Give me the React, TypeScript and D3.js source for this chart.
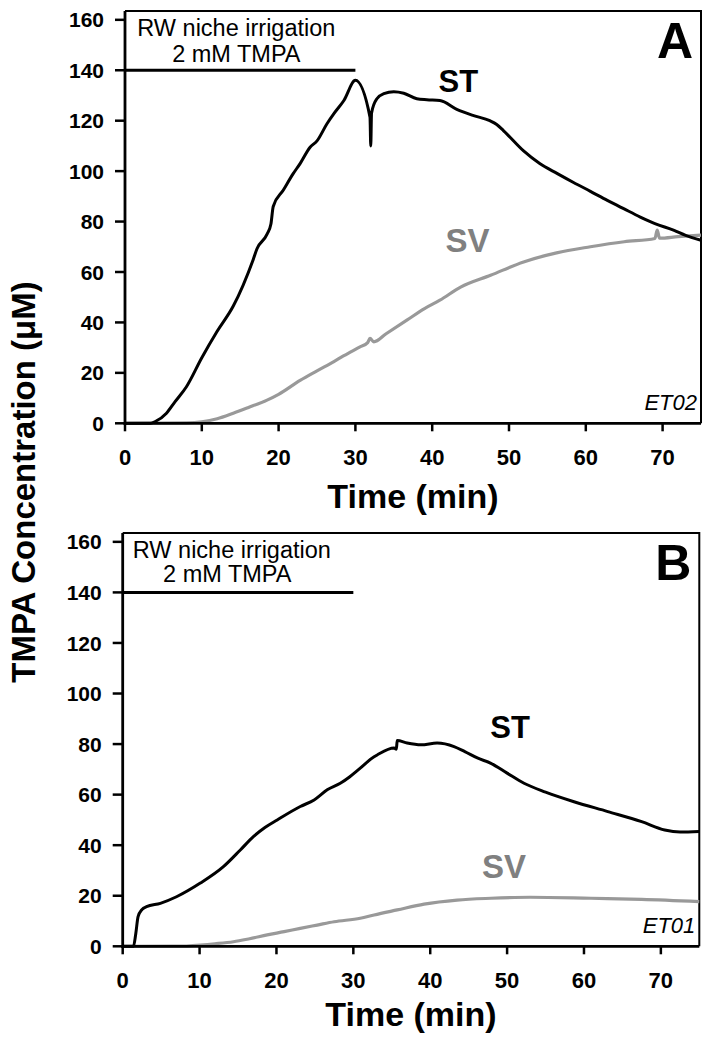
import React from "react";
import * as d3 from "d3";

// ---------- data ----------
const xTicks = [0, 10, 20, 30, 40, 50, 60, 70];
const yTicks = [0, 20, 40, 60, 80, 100, 120, 140, 160];
const yTitle = "TMPA Concentration (\u03BCM)";
const xTitle = "Time (min)";
const annotLine1 = "RW niche irrigation";
const annotLine2 = "2 mM TMPA";
const irrigation = [[0, 140], [30, 140]];

// Panel A (ET02)
const stA: [number, number][] = [
  [0, 0], [3.3, 0], [4, 0.8], [5.4, 4], [6.5, 8.5], [8, 14.5], [10, 26], [12, 36.5], [14.1, 46.5],
  [16.7, 65], [17.2, 69.3], [18.5, 75], [19.0, 79], [19.3, 86], [20.6, 92.4], [21.9, 99], [22.8, 103],
  [24.1, 109.5], [25, 112], [26.3, 118.8], [27.2, 122.8], [28.5, 128], [30, 136], [31.9, 121.4],
  [32.0, 110], [32.1, 123], [32.8, 128.7], [33.7, 130.7], [35, 131.5], [36.3, 130.9], [38, 128.7],
  [39.3, 128.3], [41, 128], [43.2, 124.5], [45.4, 122], [47.5, 120], [48.4, 118.5], [49.3, 116],
  [51.9, 108], [54, 103], [56.3, 99], [58.4, 95.5], [60.6, 92], [62.8, 88.4], [65, 85], [67.1, 81.8],
  [69, 79.2], [71.5, 76.5], [73, 74.5], [75, 72.6],
];
const svA: [number, number][] = [
  [0, 0], [8, 0.2], [10, 0.6], [12, 1.8], [14.1, 4], [16, 6.2], [18.5, 9.2], [20, 11.5], [22.8, 17],
  [25, 20.8], [27.2, 24.5], [28.5, 26.8], [30.6, 30.3], [31.6, 32], [31.9, 33.7], [32.4, 32.3],
  [34, 35.5], [36.7, 40.9], [39, 45.5], [41, 48.8], [43.7, 54], [47.6, 58.7], [51.9, 64],
  [56.2, 67.6], [60.6, 70], [65, 72], [69, 73.3], [69.3, 76.6], [69.6, 73.4], [72, 74], [75, 74.6],
];

// Panel B (ET01)
const stB: [number, number][] = [
  [0, 0], [1.4, 0], [1.7, 5], [2.0, 11.7], [2.5, 14.5], [3.1, 15.7], [4.9, 17], [7, 19.6], [10.1, 25],
  [13.1, 31.5], [15.3, 38.1], [17, 43.4], [18.5, 47], [20.1, 50], [23.1, 55.3], [24.9, 57.9],
  [26.6, 61.9], [28.3, 64.5], [29.5, 67], [30.9, 70.5], [32.7, 75], [33.1, 75.7], [35.3, 78.4],
  [35.6, 78], [35.7, 81.4], [37, 80.4], [38.8, 79.7], [40.9, 80.4], [43.1, 79], [44.5, 77],
  [46.2, 74.4], [47.9, 72.4], [50, 68.5], [52.2, 64.5], [55, 61], [58.7, 57.2], [63.1, 53.3],
  [67.5, 49.3], [70.5, 46], [72.5, 45.2], [75, 45.4],
];
const svB: [number, number][] = [
  [0, 0], [8, 0.1], [10.1, 0.5], [12, 1], [14.4, 1.8], [16.5, 3], [18.8, 4.5], [21, 5.8], [23.1, 7.1],
  [25.3, 8.4], [27.5, 9.7], [30.9, 11.1], [32.7, 12.4], [35.7, 14.4], [39.2, 16.7], [43.5, 18.3],
  [47.9, 19], [53, 19.4], [60.9, 19], [67.5, 18.6], [75, 17.7],
];

const panels = [
  { id: "A", code: "ET02", st: stA, sv: svA },
  { id: "B", code: "ET01", st: stB, sv: svB },
];

// ---------- layout ----------
const W = 713;
const H = 1047;
const FONT = "'Liberation Sans', Arial, Helvetica, sans-serif";
const boxes = [
  { left: 125, right: 701, top: 11, bottom: 423.3, titleY: 508, stLab: [43.4, 131.2], svLab: [44.6, 68], rw: [14.5, 153.4], mm: [14.5, 143.2] },
  { left: 122.7, right: 699.3, top: 533, bottom: 946.3, titleY: 1026, stLab: [50.4, 82.5], svLab: [49.6, 27.1], rw: [14.2, 153.6], mm: [13.6, 144.3] },
];

function Panel({ p, b }: any) {
  const x = d3.scaleLinear().domain([0, 75]).range([b.left, b.right]);
  const y = d3.scaleLinear().domain([0, 163.5]).range([b.bottom, b.top]);
  const line = d3
    .line<[number, number]>()
    .x((d) => x(d[0]))
    .y((d) => y(d[1]))
    .curve(d3.curveMonotoneX);
  const straight = d3
    .line<[number, number]>()
    .x((d) => x(d[0]))
    .y((d) => y(d[1]));
  return (
    <g fontFamily={FONT}>
      {/* frame */}
      <path
        d={`M${b.left},${b.top}H${b.right}V${b.bottom}`}
        fill="none"
        stroke="#000"
        strokeWidth={2}
      />
      {/* data */}
      <path d={line(p.sv) || ""} fill="none" stroke="#999" strokeWidth={3.2} strokeLinejoin="round" />
      <path d={line(p.st) || ""} fill="none" stroke="#000" strokeWidth={3} strokeLinejoin="round" />
      {/* irrigation bar */}
      <path d={straight(irrigation as any) || ""} fill="none" stroke="#000" strokeWidth={3} />
      {/* axes */}
      <line x1={b.left} x2={b.left} y1={b.top} y2={b.bottom + 1.5} stroke="#000" strokeWidth={2.8} />
      <line x1={b.left - 1.4} x2={b.right} y1={b.bottom} y2={b.bottom} stroke="#000" strokeWidth={2.8} />
      {yTicks.map((t) => (
        <g key={"y" + t}>
          <line x1={b.left - 10} x2={b.left} y1={y(t)} y2={y(t)} stroke="#000" strokeWidth={2.5} />
          <text x={b.left - 21} y={y(t)} dy="0.36em" textAnchor="end" fontSize={21} fontWeight="bold">
            {t}
          </text>
        </g>
      ))}
      {xTicks.map((t) => (
        <g key={"x" + t}>
          <line x1={x(t)} x2={x(t)} y1={b.bottom} y2={b.bottom + 8} stroke="#000" strokeWidth={2.5} />
          <text x={x(t)} y={b.bottom + 41.7} textAnchor="middle" fontSize={22} fontWeight="bold">
            {t}
          </text>
        </g>
      ))}
      <text x={(b.left + b.right) / 2} y={b.titleY} textAnchor="middle" fontSize={34} fontWeight="bold">
        {xTitle}
      </text>
      {/* annotations */}
      <text x={x(b.rw[0])} y={y(b.rw[1])} textAnchor="middle" fontSize={23.5}>
        {annotLine1}
      </text>
      <text x={x(b.mm[0])} y={y(b.mm[1])} textAnchor="middle" fontSize={23.5}>
        {annotLine2}
      </text>
      <text x={x(b.stLab[0])} y={y(b.stLab[1])} textAnchor="middle" fontSize={31} fontWeight="bold">
        ST
      </text>
      <text x={x(b.svLab[0])} y={y(b.svLab[1])} textAnchor="middle" fontSize={33} fontWeight="bold" fill="#808080">
        SV
      </text>
      <text x={b.right - 26} y={b.top + 47} textAnchor="middle" fontSize={50} fontWeight="bold">
        {p.id}
      </text>
      <text x={b.right - 4} y={b.bottom - 13.5} textAnchor="end" fontSize={22} fontStyle="italic">
        {p.code}
      </text>
    </g>
  );
}

export default function App() {
  return (
    <svg
      width={W}
      height={H}
      viewBox={`0 0 ${W} ${H}`}
      style={{ position: "absolute", left: 0, top: 0, background: "#fff" }}
    >
      <rect width={W} height={H} fill="#fff" />
      {panels.map((p, i) => (
        <Panel key={p.id} p={p} b={boxes[i]} />
      ))}
      <text
        transform="translate(35,482) rotate(-90)"
        textAnchor="middle"
        fontSize={33}
        fontWeight="bold"
        fontFamily={FONT}
      >
        {yTitle}
      </text>
    </svg>
  );
}
